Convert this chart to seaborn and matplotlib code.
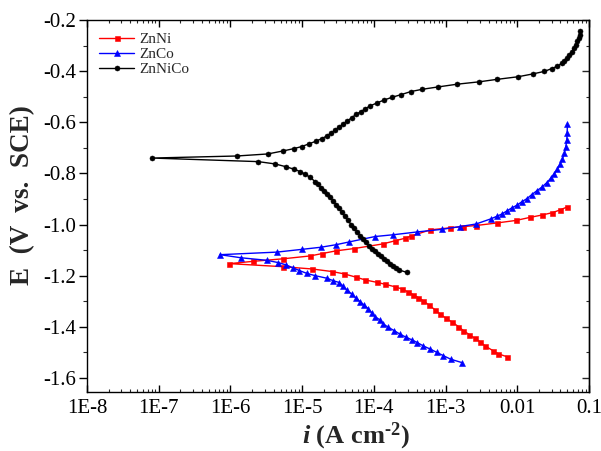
import numpy as np
import pandas as pd
import matplotlib
matplotlib.use("Agg")
import matplotlib.pyplot as plt
import seaborn as sns
from matplotlib.ticker import FixedLocator, FixedFormatter, MultipleLocator, LogLocator, NullFormatter

# ---------------- data (log10 of current density i [A cm^-2], potential E [V vs SCE]) -------------
# ZnNi: cathodic branch (from Ecorr downwards) and anodic branch (from Ecorr upwards)
znni_cat_logi = [-6.015, -5.271, -4.858, -4.583, -4.416, -4.248, -4.118, -3.960, -3.840, -3.700,
                 -3.611, -3.523, -3.449, -3.379, -3.310, -3.226, -3.146, -3.077, -2.993, -2.913,
                 -2.821, -2.752, -2.668, -2.593, -2.519, -2.449, -2.342, -2.264, -2.146]
znni_cat_E = [-1.153, -1.165, -1.174, -1.184, -1.193, -1.206, -1.217, -1.226, -1.234, -1.244,
              -1.252, -1.264, -1.275, -1.286, -1.299, -1.316, -1.334, -1.350, -1.367, -1.381,
              -1.399, -1.415, -1.431, -1.445, -1.459, -1.475, -1.493, -1.506, -1.517]
znni_an_logi = [-6.015, -5.681, -5.262, -4.890, -4.727, -4.527, -4.276, -3.876, -3.709, -3.569,
                -3.477, -3.216, -2.937, -2.752, -2.575, -2.286, -2.017, -1.821, -1.658, -1.515,
                -1.403, -1.310]
znni_an_E = [-1.153, -1.144, -1.134, -1.123, -1.114, -1.103, -1.094, -1.076, -1.064, -1.054,
             -1.045, -1.021, -1.013, -1.008, -1.004, -0.994, -0.984, -0.972, -0.963, -0.954,
             -0.943, -0.932]

# ZnCo
znco_cat_logi = [-6.145, -5.856, -5.494, -5.332, -5.225, -5.131, -5.039, -4.936, -4.820, -4.657,
                 -4.565, -4.481, -4.434, -4.378, -4.308, -4.248, -4.192, -4.137, -4.077, -4.029,
                 -3.983, -3.914, -3.868, -3.798, -3.718, -3.635, -3.551, -3.471, -3.393, -3.310,
                 -3.216, -3.123, -3.031, -2.927, -2.774]
znco_cat_E = [-1.118, -1.130, -1.140, -1.149, -1.158, -1.169, -1.180, -1.191, -1.200, -1.210,
              -1.220, -1.227, -1.240, -1.256, -1.272, -1.288, -1.302, -1.315, -1.330, -1.345,
              -1.361, -1.373, -1.389, -1.402, -1.415, -1.429, -1.441, -1.451, -1.462, -1.475,
              -1.487, -1.500, -1.513, -1.527, -1.540]
znco_an_logi = [-6.145, -5.354, -4.997, -4.741, -4.527, -4.342, -3.983, -3.728, -3.393, -3.053,
                -2.798, -2.575, -2.370, -2.286, -2.216, -2.146, -2.077, -2.007, -1.937, -1.867,
                -1.798, -1.728, -1.658, -1.588, -1.533, -1.487, -1.441, -1.403, -1.371, -1.343,
                -1.324, -1.310, -1.305, -1.301]
znco_an_E = [-1.118, -1.108, -1.097, -1.089, -1.079, -1.068, -1.047, -1.040, -1.029, -1.019,
             -1.008, -0.998, -0.978, -0.968, -0.959, -0.947, -0.935, -0.925, -0.911, -0.899,
             -0.883, -0.868, -0.854, -0.836, -0.819, -0.802, -0.784, -0.764, -0.745, -0.721,
             -0.696, -0.669, -0.643, -0.607]

# ZnNiCo
znnico_cat_logi = [-7.093, -5.611, -5.378, -5.225, -5.109, -5.029, -4.960, -4.890, -4.820, -4.778,
                   -4.736, -4.695, -4.653, -4.611, -4.569, -4.527, -4.485, -4.444, -4.402, -4.360,
                   -4.318, -4.276, -4.234, -4.192, -4.151, -4.109, -4.067, -4.025, -3.983, -3.941,
                   -3.900, -3.858, -3.816, -3.774, -3.732, -3.690, -3.649, -3.541]
znnico_cat_E = [-0.740, -0.754, -0.763, -0.774, -0.784, -0.793, -0.803, -0.815, -0.832, -0.843,
                -0.857, -0.869, -0.880, -0.892, -0.908, -0.922, -0.937, -0.953, -0.968, -0.984,
                -1.000, -1.015, -1.029, -1.043, -1.056, -1.070, -1.084, -1.096, -1.105, -1.115,
                -1.125, -1.135, -1.144, -1.154, -1.164, -1.172, -1.178, -1.187]
znnico_an_logi = [-7.093, -5.912, -5.480, -5.262, -5.113, -5.006, -4.900, -4.806, -4.727, -4.657,
                  -4.597, -4.541, -4.481, -4.425, -4.370, -4.308, -4.248, -4.183, -4.123, -4.053,
                  -3.960, -3.858, -3.742, -3.621, -3.485, -3.324, -3.109, -2.835, -2.537, -2.277,
                  -1.989, -1.784, -1.622, -1.519, -1.441, -1.379, -1.347, -1.310, -1.278, -1.240,
                  -1.215, -1.184, -1.163, -1.142, -1.130, -1.124]
znnico_an_E = [-0.740, -0.732, -0.724, -0.712, -0.703, -0.695, -0.684, -0.674, -0.664, -0.654,
               -0.642, -0.631, -0.618, -0.607, -0.595, -0.582, -0.569, -0.559, -0.548, -0.536,
               -0.525, -0.513, -0.502, -0.492, -0.480, -0.471, -0.462, -0.451, -0.442, -0.432,
               -0.422, -0.411, -0.401, -0.390, -0.381, -0.369, -0.360, -0.350, -0.338, -0.324,
               -0.311, -0.298, -0.284, -0.272, -0.257, -0.243]

series_names = ["ZnNi", "ZnCo", "ZnNiCo"]
series_colors = ["#ff0000", "#0000ff", "#000000"]
series_markers = ["s", "^", "o"]

x_tick_values = [1e-8, 1e-7, 1e-6, 1e-5, 1e-4, 1e-3, 1e-2, 1e-1]
x_tick_labels = ["1E-8", "1E-7", "1E-6", "1E-5", "1E-4", "1E-3", "0.01", "0.1"]
y_tick_values = [-1.6, -1.4, -1.2, -1.0, -0.8, -0.6, -0.4, -0.2]
y_tick_labels = ["-1.6", "-1.4", "-1.2", "-1.0", "-0.8", "-0.6", "-0.4", "-0.2"]

# ---------------- build tidy frames ----------------
def scan(cat_logi, cat_E, an_logi, an_E):
    logi = list(reversed(cat_logi)) + list(an_logi[1:])
    E = list(reversed(cat_E)) + list(an_E[1:])
    return pd.DataFrame({"i": np.power(10.0, logi), "E": E})

frames = [
    scan(znni_cat_logi, znni_cat_E, znni_an_logi, znni_an_E),
    scan(znco_cat_logi, znco_cat_E, znco_an_logi, znco_an_E),
    scan(znnico_cat_logi, znnico_cat_E, znnico_an_logi, znnico_an_E),
]

# ---------------- style ----------------
sns.set_style("ticks")
plt.rcParams["font.family"] = ["Liberation Serif", "DejaVu Serif"]
plt.rcParams["axes.unicode_minus"] = False
plt.rcParams["mathtext.fontset"] = "custom"
plt.rcParams["mathtext.rm"] = "Liberation Serif:bold"
plt.rcParams["mathtext.it"] = "Liberation Serif:italic:bold"
plt.rcParams["mathtext.bf"] = "Liberation Serif:bold"

fig = plt.figure(figsize=(6.01, 4.51), dpi=100)
ax = fig.add_axes([87 / 601, (451 - 391.7) / 451, (589 - 87) / 601, (391.7 - 20) / 451])

msizes = [3.6, 4.2, 3.6]
for df, name, col, mk, ms in zip(frames, series_names, series_colors, series_markers, msizes):
    sns.lineplot(data=df, x="i", y="E", sort=False, estimator=None, ax=ax,
                 color=col, marker=mk, markersize=ms, markeredgecolor=col,
                 markeredgewidth=0.4, linewidth=1.0, label=name)

ax.set_xscale("log")
ax.set_xlim(1e-8, 1e-1)
ax.set_ylim(-1.654, -0.2)

ax.xaxis.set_major_locator(FixedLocator(x_tick_values))
ax.xaxis.set_major_formatter(FixedFormatter(x_tick_labels))
ax.xaxis.set_minor_locator(LogLocator(base=10, subs=np.arange(2, 10), numticks=20))
ax.xaxis.set_minor_formatter(NullFormatter())
ax.yaxis.set_major_locator(FixedLocator(y_tick_values))
ax.yaxis.set_major_formatter(FixedFormatter(y_tick_labels))
ax.yaxis.set_minor_locator(MultipleLocator(0.1))

for s in ax.spines.values():
    s.set_visible(True)
    s.set_linewidth(1.0)
    s.set_color("black")

ax.tick_params(axis="x", which="major", direction="in", length=5, width=1, top=True,
               labelsize=15, pad=5, colors="black")
ax.tick_params(axis="x", which="minor", direction="in", length=2.5, width=0.8, top=True)
ax.tick_params(axis="y", which="major", direction="out", length=6, width=1,
               labelsize=15, pad=1.5, colors="black")
ax.tick_params(axis="y", which="minor", direction="out", length=3, width=0.8)

sec = ax.secondary_yaxis("right")
sec.yaxis.set_major_locator(FixedLocator(y_tick_values))
sec.yaxis.set_minor_locator(MultipleLocator(0.1))
sec.tick_params(axis="y", which="major", direction="in", length=5, width=1, labelright=False)
sec.tick_params(axis="y", which="minor", direction="in", length=2.5, width=0.8, labelright=False)
sec.spines["right"].set_linewidth(1.0)

ax.set_xlabel(r"$\mathit{i}$ (A cm$^{\text{-2}}$)", fontsize=19, fontweight="bold")
ax.set_ylabel("E  (V  vs.  SCE)", fontsize=19.5, fontweight="bold")
ax.xaxis.set_label_coords(0.536, -0.078)
ax.yaxis.set_label_coords(-0.104, 0.53)

leg = ax.legend(loc="upper left", frameon=False, fontsize=11, handlelength=2.3,
                handletextpad=0.3, labelspacing=0.1, borderaxespad=0.4,
                bbox_to_anchor=(0.0, 1.0))

fig.savefig("out.png", dpi=100)
